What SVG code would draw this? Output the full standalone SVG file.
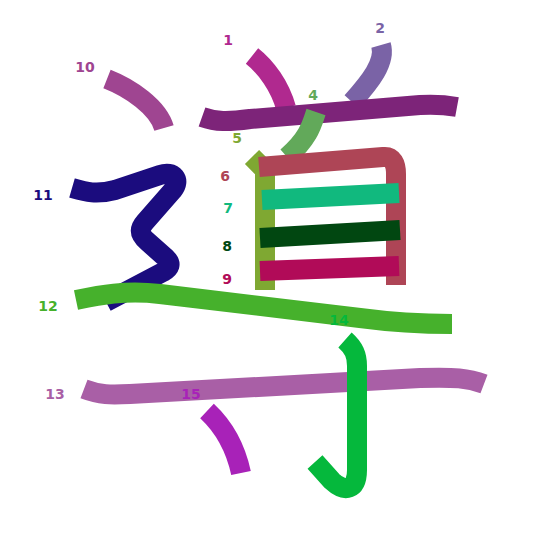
<svg xmlns="http://www.w3.org/2000/svg" width="545" height="545" viewBox="0 0 545 545">
<style>
.s{fill:none;stroke-width:20;stroke-linecap:butt;stroke-linejoin:round}
.t{font-family:"DejaVu Sans",sans-serif;font-weight:bold;font-size:14px;text-anchor:middle}
</style>
<rect width="545" height="545" fill="#fff"/>
<g id="strokes">
<g id="s1"><path class="s" stroke="#b0298f" d="M252,56 C266,67 280,86 286,108"/></g>
<g id="s2"><path class="s" stroke="#7a63a6" d="M381,45 C386,62 370,82 352,102"/></g>
<g id="s3"><path class="s" stroke="#7d2479" d="M202,117 C216,122 228,122 250,119 L420,105 C436,104 446,105 457,107"/></g>
<g id="s4"><path class="s" stroke="#62a95a" d="M316,112 C312,124 309,138 287,157"/></g>
<g id="s5"><path class="s" stroke="#7fa832" d="M252,157 L265,170 L265,290"/></g>
<g id="s6"><path class="s" stroke="#ae4556" d="M259,167 L383,157 C393,156 396,164 396,174 L396,285"/></g>
<g id="s7"><path class="s" stroke="#11b97e" d="M262,200 L399,193"/></g>
<g id="s8"><path class="s" stroke="#014711" d="M260,238 L400,230"/></g>
<g id="s9"><path class="s" stroke="#b10b58" d="M260,271 L399,266"/></g>
<g id="s10"><path class="s" stroke="#9f4591" d="M107,79 C130,88 158,107 164,128"/></g>
<g id="s11"><path class="s" stroke="#1b0c7e" d="M72,188 C86,192 96,195 115,190 L160,175 C174,170 181,180 173,190 L145,222 C138,230 140,235 148,242 L166,258 C172,264 170,268 163,272 L106,302"/></g>
<g id="s12"><path class="s" stroke="#46b12c" d="M76,300 C100,295 125,290 160,294 L360,318 C390,322 420,324 452,324"/></g>
<g id="s13"><path class="s" stroke="#a95fa6" d="M84,389 C100,395 110,395 130,394 L420,378 C455,377 468,378 484,384"/></g>
<g id="s14"><path class="s" stroke="#05b83c" d="M345,340 C354,348 357,355 357,366 L357,470 C357,490 345,493 332,481 L315,462"/></g>
<g id="s15"><path class="s" stroke="#a822b8" d="M207,411 C222,425 235,445 241,473"/></g>
</g>
<g id="labels">
<text class="t" x="228" y="45" fill="#b0298f">1</text>
<text class="t" x="380" y="33" fill="#7a63a6">2</text>
<text class="t" x="313" y="100" fill="#62a95a">4</text>
<text class="t" x="237" y="143" fill="#7fa832">5</text>
<text class="t" x="225" y="181" fill="#ae4556">6</text>
<text class="t" x="228" y="213" fill="#11b97e">7</text>
<text class="t" x="227" y="251" fill="#014711">8</text>
<text class="t" x="227" y="284" fill="#b10b58">9</text>
<text class="t" x="85" y="72" fill="#9f4591">10</text>
<text class="t" x="43" y="200" fill="#1b0c7e">11</text>
<text class="t" x="48" y="311" fill="#46b12c">12</text>
<text class="t" x="55" y="399" fill="#a95fa6">13</text>
<text class="t" x="339" y="325" fill="#05b83c">14</text>
<text class="t" x="191" y="399" fill="#a822b8">15</text>
</g>
</svg>
